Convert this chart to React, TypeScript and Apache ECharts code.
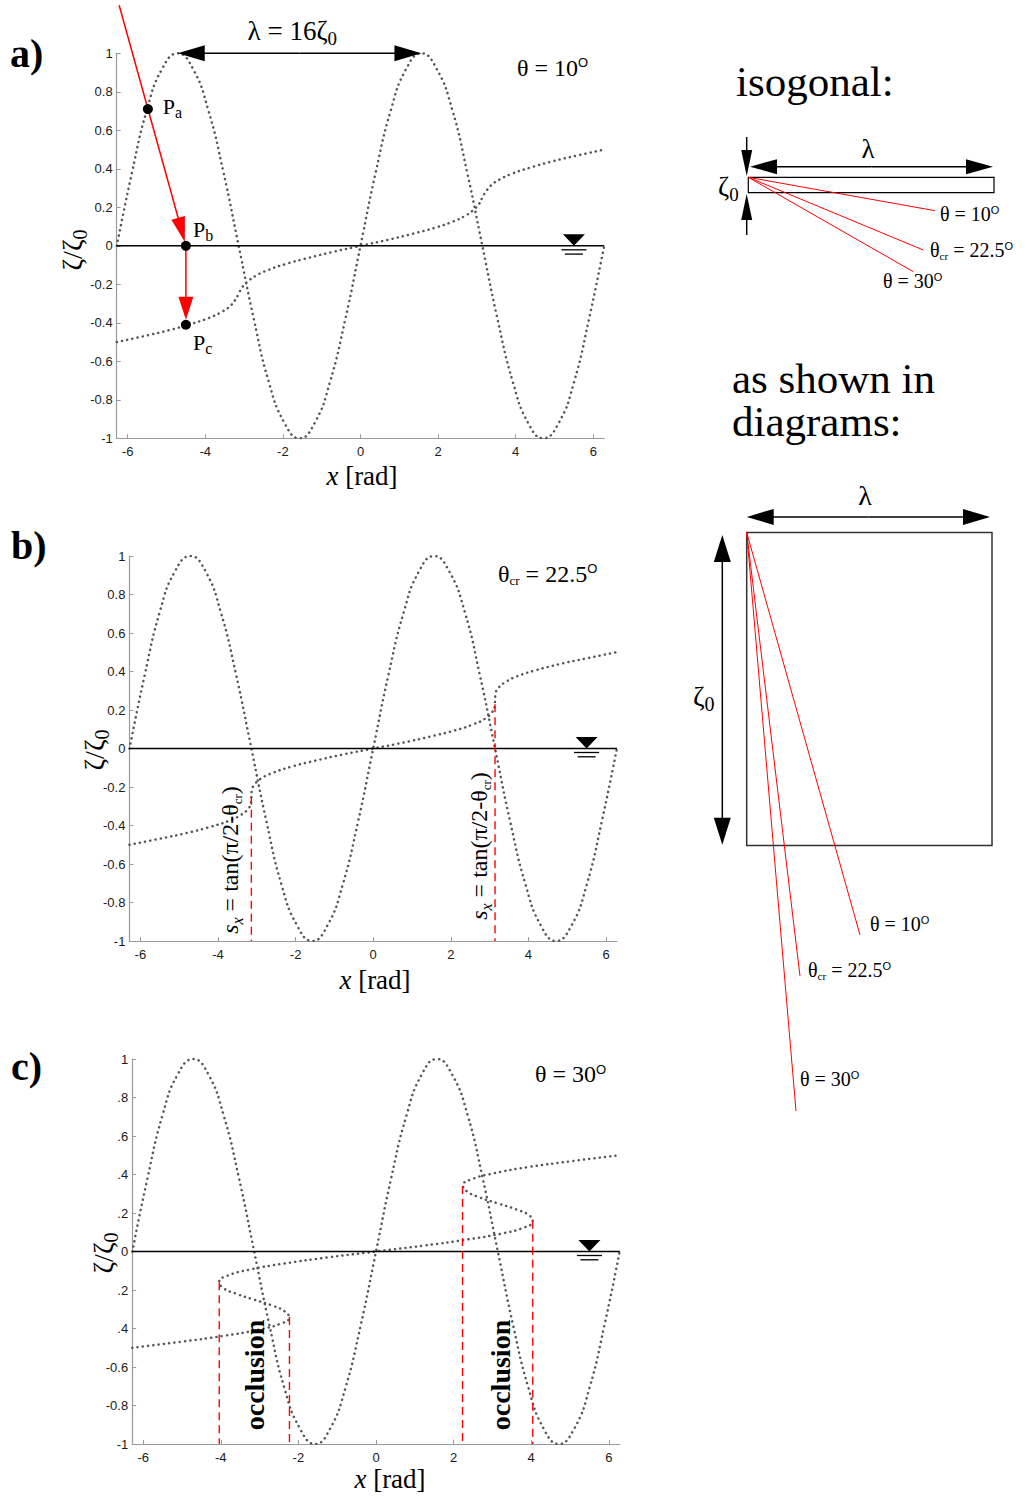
import React, { useEffect, useRef } from "react";
import * as echarts from "echarts";

const SERIF = "'Liberation Serif', 'Times New Roman', 'DejaVu Serif', serif";
const SANS = "'Liberation Sans', Arial, Helvetica, sans-serif";

const X_MIN = -6.2832;
const X_MAX = 6.2832;
const xTicks = [-6, -4, -2, 0, 2, 4, 6];
const yTickLabels = ["-1", "-0.8", "-0.6", "-0.4", "-0.2", "0", "0.2", "0.4", "0.6", "0.8", "1"];
const yTickLabelsC = ["-1", "-0.8", "-0.6", ".4", ".2", "0", ".2", ".4", ".6", ".8", "1"];

// dotted surface elevation (at steps of pi/8)
const sineX = [-6.28, -5.89, -5.5, -5.11, -4.71, -4.32, -3.93, -3.53, -3.14, -2.75, -2.36, -1.96, -1.57, -1.18, -0.79, -0.39, 0, 0.39, 0.79, 1.18, 1.57, 1.96, 2.36, 2.75, 3.14, 3.53, 3.93, 4.32, 4.71, 5.11, 5.5, 5.89, 6.28];
const sineY = [0, 0.38, 0.71, 0.92, 1, 0.92, 0.71, 0.38, 0, -0.38, -0.71, -0.92, -1, -0.92, -0.71, -0.38, 0, 0.38, 0.71, 0.92, 1, 0.92, 0.71, 0.38, 0, -0.38, -0.71, -0.92, -1, -0.92, -0.71, -0.38, 0];

// projected (shadowed) curve, shared heights and per-panel x positions
const curveY = [-0.5, -0.469, -0.438, -0.406, -0.375, -0.344, -0.313, -0.281, -0.25, -0.219, -0.188, -0.156, -0.125, -0.094, -0.063, -0.031, 0, 0.031, 0.063, 0.094, 0.125, 0.156, 0.188, 0.219, 0.25, 0.281, 0.313, 0.344, 0.375, 0.406, 0.438, 0.469, 0.5];
const curveXa = [-6.28, -5.58, -4.93, -4.37, -3.91, -3.58, -3.36, -3.23, -3.14, -3.06, -2.92, -2.7, -2.37, -1.92, -1.35, -0.7, 0, 0.7, 1.35, 1.92, 2.37, 2.7, 2.92, 3.06, 3.14, 3.23, 3.36, 3.58, 3.91, 4.37, 4.93, 5.58, 6.28];
const curveXb = [-6.28, -5.51, -4.79, -4.18, -3.71, -3.4, -3.22, -3.15, -3.14, -3.13, -3.06, -2.89, -2.57, -2.1, -1.49, -0.78, 0, 0.78, 1.49, 2.1, 2.57, 2.89, 3.06, 3.13, 3.14, 3.15, 3.22, 3.4, 3.71, 4.18, 4.79, 5.51, 6.28];
const curveXc = [-6.28, -5.03, -3.91, -3.03, -2.46, -2.24, -2.34, -2.67, -3.14, -3.61, -3.95, -4.04, -3.82, -3.26, -2.38, -1.25, 0, 1.25, 2.38, 3.26, 3.82, 4.04, 3.95, 3.61, 3.14, 2.67, 2.34, 2.24, 2.46, 3.03, 3.91, 5.03, 6.28];

const bDashX = [-3.14, 3.14];
const bDashTop = [-0.25, 0.23];
const cDashX = [-4.04, -2.23, 2.23, 4.04];
const cDashTop = [-0.16, -0.34, 0.34, 0.16];

const lambdaPeaks = [-4.71, 1.57];
const rayStart = [-6.22, 1.25];
const pointA = [-5.48, 0.71];
const pointB = [-4.5, 0];
const pointC = [-4.5, -0.41];
const waterX = 5.5;

const GRIDS = [
  { left: 116.7, top: 53.3, width: 487.6, height: 385 },
  { left: 129.4, top: 556, width: 487.6, height: 385 },
  { left: 132.2, top: 1059, width: 487.6, height: 385 },
];

const dotted = { color: "#555", width: 2.5, type: [0.1, 5.2], cap: "round" };

function buildOption(): any {
  const curveXs = [curveXa, curveXb, curveXc];
  const series: any[] = [];
  GRIDS.forEach((_, i) => {
    series.push({
      type: "line", xAxisIndex: i, yAxisIndex: i, smooth: true, showSymbol: false, silent: true,
      data: sineX.map((x, k) => [x, sineY[k]]), lineStyle: dotted, z: 2,
    });
    series.push({
      type: "line", xAxisIndex: i, yAxisIndex: i, smooth: true, showSymbol: false, silent: true,
      data: curveXs[i].map((x, k) => [x, curveY[k]]), lineStyle: dotted, z: 2,
    });
    series.push({
      type: "line", xAxisIndex: i, yAxisIndex: i, showSymbol: false, silent: true,
      data: [[X_MIN, 0], [X_MAX, 0]], lineStyle: { color: "#000", width: 1.5 }, z: 3,
    });
  });
  const dash = { color: "#ff0000", width: 1.4, type: [8, 5] };
  bDashX.forEach((x, k) => {
    series.push({
      type: "line", xAxisIndex: 1, yAxisIndex: 1, showSymbol: false, silent: true,
      data: [[x, bDashTop[k]], [x, -1]], lineStyle: dash, z: 4,
    });
  });
  cDashX.forEach((x, k) => {
    series.push({
      type: "line", xAxisIndex: 2, yAxisIndex: 2, showSymbol: false, silent: true,
      data: [[x, cDashTop[k]], [x, -1]], lineStyle: dash, z: 4,
    });
  });
  const axisCol = "#9a9a9a";
  return {
    animation: false,
    backgroundColor: "#fff",
    grid: GRIDS.map((g) => ({ ...g, containLabel: false })),
    xAxis: GRIDS.map((_, i) => ({
      gridIndex: i, type: "value", min: X_MIN, max: X_MAX,
      axisLine: { show: true, onZero: false, lineStyle: { color: axisCol, width: 1.2 } },
      axisTick: { show: true, inside: true, length: 4, customValues: xTicks, lineStyle: { color: axisCol } },
      axisLabel: { show: true, customValues: xTicks, color: "#1a1a1a", fontSize: 13, fontFamily: SANS, margin: 7 },
      splitLine: { show: false },
    })),
    yAxis: GRIDS.map((_, i) => ({
      gridIndex: i, type: "value", min: -1, max: 1, interval: 0.2,
      axisLine: { show: true, onZero: false, lineStyle: { color: axisCol, width: 1.2 } },
      axisTick: { show: true, inside: true, length: 4, lineStyle: { color: axisCol } },
      axisLabel: {
        color: "#1a1a1a", fontSize: 13, fontFamily: SANS, margin: 4,
        formatter: (v: number) => {
          const idx = Math.round((v + 1) / 0.2);
          return (i === 2 ? yTickLabelsC : yTickLabels)[idx] ?? "";
        },
      },
      splitLine: { show: false },
    })),
    series,
  };
}

type Pt = number[];

function arrowEls(a: Pt, b: Pt, color: string, len: number, half: number, w: number) {
  const dx = b[0] - a[0];
  const dy = b[1] - a[1];
  const L = Math.hypot(dx, dy);
  const ux = dx / L;
  const uy = dy / L;
  const bx = b[0] - ux * len;
  const by = b[1] - uy * len;
  return [
    { type: "line", z: 50, shape: { x1: a[0], y1: a[1], x2: bx + ux, y2: by + uy }, style: { stroke: color, lineWidth: w } },
    {
      type: "polygon", z: 50,
      shape: { points: [[b[0], b[1]], [bx - uy * half, by + ux * half], [bx + uy * half, by - ux * half]] },
      style: { fill: color },
    },
  ];
}

function dblArrowEls(a: Pt, b: Pt, color: string, len: number, half: number, w: number) {
  const mid = [(a[0] + b[0]) / 2, (a[1] + b[1]) / 2];
  return [...arrowEls(mid, b, color, len, half, w), ...arrowEls(mid, a, color, len, half, w)];
}

function tx(x: number, y: number, text: string, size: number, o: any = {}) {
  const base: any = { fontFamily: SERIF, fontSize: size, fill: o.color || "#000", fontWeight: o.bold ? "bold" : "normal" };
  if (o.lineHeight) base.lineHeight = o.lineHeight;
  return {
    type: "text", x, y, rotation: o.rot || 0, z: 60,
    style: {
      text, align: o.align || "left", verticalAlign: "middle", ...base,
      rich: {
        m: { ...base },
        i: { ...base, fontStyle: "italic" },
        s: { ...base, fontSize: Math.round(size * 0.72), padding: [Math.round(size * 0.55), 0, 0, 0] },
        si: { ...base, fontStyle: "italic", fontSize: Math.round(size * 0.68), padding: [Math.round(size * 0.6), 0, 0, 0] },
        c: { ...base, fontSize: Math.round(size * 0.55), padding: [Math.round(size * 0.6), 0, 0, 0] },
        o: { ...base, fontFamily: SANS, fontSize: Math.round(size * 0.55), padding: [0, 0, Math.round(size * 0.4), 0] },
      },
    },
  };
}

function redLine(a: Pt, b: Pt) {
  return { type: "line", z: 40, shape: { x1: a[0], y1: a[1], x2: b[0], y2: b[1] }, style: { stroke: "#ff0000", lineWidth: 1 } };
}

function buildGraphics(chart: any) {
  const px = (g: number, p: Pt): Pt => chart.convertToPixel({ xAxisIndex: g, yAxisIndex: g }, p) as number[];
  const els: any[] = [];

  // panel letters
  els.push(tx(10, 53, "a)", 40, { bold: true }));
  els.push(tx(11, 545, "b)", 40, { bold: true }));
  els.push(tx(11, 1066, "c)", 40, { bold: true }));

  // axis names
  const xNames = [[362, 476], [375, 980], [390, 1479]];
  xNames.forEach(([x, y]) => els.push(tx(x, y, "{i|x}{m| [rad]}", 27, { align: "center" })));
  const yNames = [[72, 250], [94, 750], [103, 1253]];
  yNames.forEach(([x, y]) => els.push(tx(x, y, "{m|ζ/ζ}{s|0}", 28, { align: "center", rot: Math.PI / 2 })));

  // angle labels on panels
  els.push(tx(517, 67.6, "{m|θ = 10}{o|O}", 24));
  els.push(tx(498, 573.6, "{m|θ}{c|cr}{m| = 22.5}{o|O}", 24));
  els.push(tx(535, 1074, "{m|θ = 30}{o|O}", 24));

  // water level symbols
  GRIDS.forEach((_, g) => {
    const [cx, cy] = px(g, [waterX, 0]);
    els.push({ type: "polygon", z: 55, shape: { points: [[cx, cy], [cx - 11, cy - 11.5], [cx + 11, cy - 11.5]] }, style: { fill: "#000" } });
    els.push({ type: "line", z: 55, shape: { x1: cx - 12.5, y1: cy + 4, x2: cx + 12.5, y2: cy + 4 }, style: { stroke: "#000", lineWidth: 1.3 } });
    els.push({ type: "line", z: 55, shape: { x1: cx - 9, y1: cy + 8.3, x2: cx + 9, y2: cy + 8.3 }, style: { stroke: "#000", lineWidth: 1.3 } });
  });

  // panel a: wavelength arrow
  const l1 = px(0, [lambdaPeaks[0], 1]);
  const l2 = px(0, [lambdaPeaks[1], 1]);
  els.push(...dblArrowEls(l1, l2, "#000", 27, 8, 1.5));
  els.push(tx((l1[0] + l2[0]) / 2 - 52, 31, "{m|λ = 16ζ}{s|0}", 27));

  // panel a: projection rays
  const s = px(0, rayStart);
  const pa = px(0, pointA);
  const pb = px(0, pointB);
  const pc = px(0, pointC);
  const d1 = Math.hypot(pb[0] - s[0], pb[1] - s[1]);
  const tip1 = [pb[0] - ((pb[0] - s[0]) / d1) * 4, pb[1] - ((pb[1] - s[1]) / d1) * 4];
  els.push(...arrowEls(s, tip1, "#ff0000", 25, 7, 1.5));
  els.push(...arrowEls(pb, [pc[0], pc[1] - 5], "#ff0000", 23, 7.5, 1.5));
  [pa, pb, pc].forEach((p) => els.push({ type: "circle", z: 58, shape: { cx: p[0], cy: p[1], r: 5 }, style: { fill: "#000" } }));
  els.push(tx(pa[0] + 15, pa[1] - 3, "{m|P}{s|a}", 22));
  els.push(tx(pb[0] + 7, pb[1] - 16, "{m|P}{s|b}", 22));
  els.push(tx(pc[0] + 7, pc[1] + 17.6, "{m|P}{s|c}", 22));

  // panel b: slope labels
  const sx = "{i|s}{si|x}{m| = tan(π/2-θ}{c|cr}{m|)}";
  els.push(tx(230, 860, sx, 24, { align: "center", rot: Math.PI / 2 }));
  els.push(tx(479, 846, sx, 24, { align: "center", rot: Math.PI / 2 }));

  // panel c: occlusion labels
  els.push(tx(254, 1375, "occlusion", 28, { align: "center", bold: true, rot: Math.PI / 2 }));
  els.push(tx(500, 1375, "occlusion", 28, { align: "center", bold: true, rot: Math.PI / 2 }));

  // right side: isogonal diagram
  els.push(tx(736, 81, "isogonal:", 43));
  els.push({ type: "rect", z: 40, shape: { x: 748.3, y: 177.3, width: 245.7, height: 15.4 }, style: { fill: "none", stroke: "#000", lineWidth: 1.2 } });
  els.push(...dblArrowEls([750, 166.7], [993, 166.7], "#000", 27, 7.5, 1.5));
  els.push(...arrowEls([746.7, 137], [746.7, 176], "#000", 26, 5.5, 1.5));
  els.push(...arrowEls([746.7, 235], [746.7, 194], "#000", 26, 5.5, 1.5));
  const o1 = [748.3, 177.3];
  els.push(redLine(o1, [935, 210.7]), redLine(o1, [923.3, 250]), redLine(o1, [913.3, 271.7]));
  els.push(tx(868, 149, "λ", 27, { align: "center" }));
  els.push(tx(718, 187, "{m|ζ}{s|0}", 27));
  els.push(tx(940, 214, "{m|θ = 10}{o|O}", 20));
  els.push(tx(930, 250, "{m|θ}{c|cr}{m| = 22.5}{o|O}", 20));
  els.push(tx(883, 281, "{m|θ = 30}{o|O}", 20));

  // right side: as shown in diagrams (one two-line text)
  els.push(tx(732, 400, "as shown in\ndiagrams:", 43, { lineHeight: 43 }));
  els.push({ type: "rect", z: 40, shape: { x: 746.7, y: 532.5, width: 245.3, height: 313 }, style: { fill: "none", stroke: "#333", lineWidth: 1.5 } });
  els.push(...dblArrowEls([746.7, 516.9], [990, 516.9], "#000", 27, 8, 1.5));
  els.push(...dblArrowEls([722.3, 535], [722.3, 844.8], "#000", 27, 8.5, 1.5));
  const o2 = [746.7, 532.5];
  els.push(redLine(o2, [860, 935]), redLine(o2, [800, 976]), redLine(o2, [796, 1111]));
  els.push(tx(865, 495, "λ", 28, { align: "center" }));
  els.push(tx(693, 696, "{m|ζ}{s|0}", 28));
  els.push(tx(870, 924, "{m|θ = 10}{o|O}", 20));
  els.push(tx(808, 970, "{m|θ}{c|cr}{m| = 22.5}{o|O}", 20));
  els.push(tx(800, 1079, "{m|θ = 30}{o|O}", 20));

  return els;
}

export default function App() {
  const ref = useRef<HTMLDivElement>(null);
  useEffect(() => {
    const chart = echarts.init(ref.current as HTMLDivElement, undefined, { renderer: "svg" });
    chart.setOption(buildOption());
    chart.setOption({ graphic: buildGraphics(chart) });
    return () => chart.dispose();
  }, []);
  return (
    <div
      ref={ref}
      style={{ position: "absolute", left: 0, top: 0, width: 1026, height: 1498, background: "#fff" }}
    />
  );
}
